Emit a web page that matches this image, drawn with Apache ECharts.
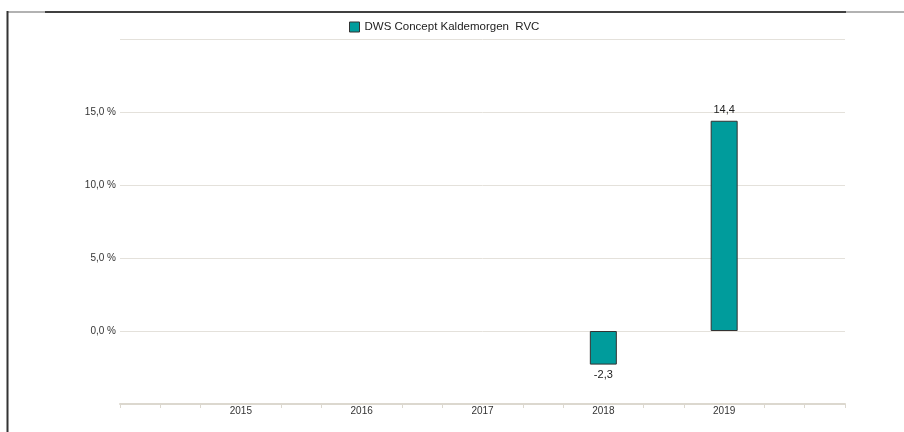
<!DOCTYPE html>
<html>
<head>
<meta charset="utf-8">
<script src="https://cdn.jsdelivr.net/npm/echarts@6/dist/echarts.min.js"></script>
<style>
  html, body { margin: 0; padding: 0; background: #fff; }
  #chart { width: 904px; height: 432px; }
</style>
</head>
<body>
<div id="chart"></div>
<script>
// data
const seriesName = "DWS Concept Kaldemorgen  RVC";
const years = ["2015", "2016", "2017", "2018", "2019"];
const returns = [null, null, null, -2.3, 14.4];
const yTicks = [0, 5, 10, 15];

// each year sits on every third slot of the axis, with minor ticks between
const slotsPerYear = 3;
const slotCount = (years.length + 1) * slotsPerYear + 1;
const slots = [];
const barData = [];
for (let i = 0; i < slotCount; i++) {
  const yearIndex = i / slotsPerYear - 1;
  if (i % slotsPerYear === 0 && yearIndex >= 0 && yearIndex < years.length) {
    slots.push(years[yearIndex]);
    const v = returns[yearIndex];
    barData.push(
      v === null
        ? null
        : { value: v, label: { position: v < 0 ? "bottom" : "top" } }
    );
  } else {
    slots.push("_" + i);
    barData.push(null);
  }
}

const fmt = (v) => v.toFixed(1).replace(".", ",");
const font = "'Liberation Sans', Arial, sans-serif";

const chart = echarts.init(document.getElementById("chart"), null, { renderer: "canvas" });
chart.setOption({
  animation: false,
  textStyle: { fontFamily: font },
  legend: {
    data: [seriesName],
    left: 344,
    top: 16,
    icon: "rect",
    itemWidth: 10,
    itemHeight: 10,
    itemGap: 5,
    textStyle: { fontSize: 11.5, color: "#222", fontFamily: font },
    itemStyle: { borderColor: "#333", borderWidth: 1 },
  },
  grid: { left: 120, right: 59, top: 39, bottom: 28 },
  xAxis: {
    type: "category",
    boundaryGap: false,
    data: slots,
    axisLine: { onZero: false, lineStyle: { color: "#dcd8cf", width: 2 } },
    axisTick: {
      show: true,
      length: 4,
      interval: (idx) => idx % slotsPerYear !== 0 || idx === 0 || idx === slotCount - 1,
      lineStyle: { color: "#dcd8cf", width: 1 },
    },
    axisLabel: {
      interval: 0,
      margin: 2,
      fontSize: 10,
      color: "#333",
      fontFamily: font,
      formatter: (v) => (v.charAt(0) === "_" ? "" : v),
    },
    splitLine: { show: false },
  },
  yAxis: {
    type: "value",
    min: -5,
    max: 20,
    interval: 5,
    axisLine: { show: false },
    axisTick: { show: false },
    axisLabel: {
      margin: 4,
      fontSize: 10,
      color: "#333",
      fontFamily: font,
      formatter: (v) => (yTicks.indexOf(v) === -1 ? "" : fmt(v) + " %"),
    },
    splitLine: { lineStyle: { color: "#e4e1db", width: 1 } },
  },
  series: [
    {
      name: seriesName,
      type: "bar",
      barWidth: 27,
      data: barData,
      itemStyle: { color: "#009c9c", borderColor: "#333", borderWidth: 1 },
      label: {
        show: true,
        distance: 5,
        fontSize: 11,
        color: "#222",
        fontFamily: font,
        formatter: (p) => fmt(p.value),
      },
    },
  ],
  graphic: [
    { type: "line", shape: { x1: 7, y1: 12, x2: 45, y2: 12 }, style: { stroke: "#999", lineWidth: 1.5 } },
    { type: "line", shape: { x1: 45, y1: 12, x2: 846, y2: 12 }, style: { stroke: "#000", lineWidth: 1.5 } },
    { type: "line", shape: { x1: 846, y1: 12, x2: 904, y2: 12 }, style: { stroke: "#999", lineWidth: 1.5 } },
    { type: "line", shape: { x1: 7.5, y1: 11, x2: 7.5, y2: 432 }, style: { stroke: "#333", lineWidth: 2 } },
  ],
});
</script>
</body>
</html>
